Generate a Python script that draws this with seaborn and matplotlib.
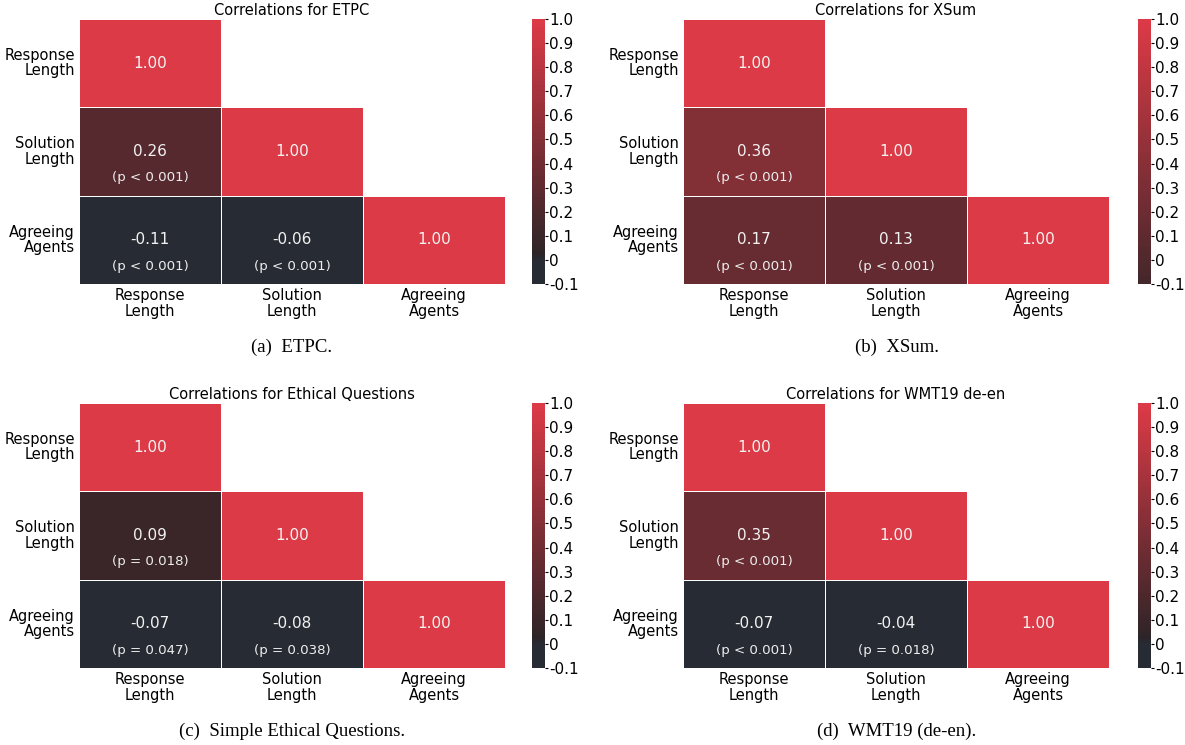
import numpy as np
import pandas as pd
import matplotlib
matplotlib.use("Agg")
import matplotlib.pyplot as plt
import seaborn as sns
from matplotlib.colors import LinearSegmentedColormap

sns.set_style("white")
plt.rcParams["font.family"] = ["DejaVu Sans"]
plt.rcParams["text.color"] = "black"
plt.rcParams["xtick.color"] = "black"
plt.rcParams["ytick.color"] = "black"
plt.rcParams["axes.labelcolor"] = "black"

labels = ["Response\nLength", "Solution\nLength", "Agreeing\nAgents"]
titles = ["Correlations for ETPC", "Correlations for XSum",
          "Correlations for Ethical Questions", "Correlations for WMT19 de-en"]
captions = ["(a)  ETPC.", "(b)  XSum.", "(c)  Simple Ethical Questions.", "(d)  WMT19 (de-en)."]

# lower-triangle correlations: (Solution,Response), (Agreeing,Response), (Agreeing,Solution)
etpc_r = [0.26, -0.11, -0.06]
etpc_p = ["(p < 0.001)", "(p < 0.001)", "(p < 0.001)"]
xsum_r = [0.36, 0.17, 0.13]
xsum_p = ["(p < 0.001)", "(p < 0.001)", "(p < 0.001)"]
ethical_r = [0.09, -0.07, -0.08]
ethical_p = ["(p = 0.018)", "(p = 0.047)", "(p = 0.038)"]
wmt_r = [0.35, -0.07, -0.04]
wmt_p = ["(p < 0.001)", "(p < 0.001)", "(p = 0.018)"]

panels = [(etpc_r, etpc_p), (xsum_r, xsum_p), (ethical_r, ethical_p), (wmt_r, wmt_p)]

cbar_ticks = [-0.1, 0.0, 0.1, 0.2, 0.3, 0.4, 0.5, 0.6, 0.7, 0.8, 0.9, 1.0]
cbar_ticklabels = ["-0.1", "0", "0.1", "0.2", "0.3", "0.4", "0.5", "0.6", "0.7", "0.8", "0.9", "1.0"]

VMIN, VMAX = -0.1, 1.0
SLATE, DARK, RED, BROWN = "#272c34", "#2c2427", "#dc3a46", "#43272b"

def pos(v):
    return (v - VMIN) / (VMAX - VMIN)

cmap_std = LinearSegmentedColormap.from_list(
    "std", [(0.0, SLATE), (pos(-0.005), SLATE), (pos(0.015), DARK), (1.0, RED)], N=64)
cmap_xsum = LinearSegmentedColormap.from_list(
    "xsum", [(0.0, BROWN), (1.0, RED)], N=64)
cmaps = [cmap_std, cmap_xsum, cmap_std, cmap_std]

fig = plt.figure(figsize=(11.85, 7.45), dpi=100)
W, H = 1185, 745
heat_boxes = [(79, 19), (683, 19), (79, 403), (683, 403)]
cbar_x = [532, 1138, 532, 1138]
hw, hh = 426, 265
cap_pos = [(292, 347), (897, 347), (292, 731), (897, 731)]

for i, ((r, p), cmap) in enumerate(zip(panels, cmaps)):
    x0, y0 = heat_boxes[i]
    ax = fig.add_axes([x0 / W, 1 - (y0 + hh) / H, hw / W, hh / H])
    cax = fig.add_axes([cbar_x[i] / W, 1 - (y0 + hh) / H, 13 / W, hh / H])
    mat = np.array([[1.0, np.nan, np.nan],
                    [r[0], 1.0, np.nan],
                    [r[1], r[2], 1.0]])
    df = pd.DataFrame(mat, index=labels, columns=labels)
    mask = np.triu(np.ones_like(mat, dtype=bool), k=1)
    sns.heatmap(df, mask=mask, cmap=cmap, vmin=VMIN, vmax=VMAX, ax=ax, cbar_ax=cax,
                linewidths=0.6, linecolor="white", annot=False,
                cbar_kws={"ticks": cbar_ticks})
    pvals = {(1, 0): p[0], (2, 0): p[1], (2, 1): p[2]}
    for rr in range(3):
        for cc in range(rr + 1):
            ax.text(cc + 0.5, rr + 0.5, f"{mat[rr, cc]:.2f}", ha="center", va="center",
                    color="#f2f2f2", fontsize=11)
            if (rr, cc) in pvals:
                ax.text(cc + 0.5, rr + 0.8, pvals[(rr, cc)], ha="center", va="center",
                        color="#eeeeee", fontsize=9.6)
    ax.set_title(titles[i], fontsize=10.5, pad=3)
    ax.set_xticklabels(labels, rotation=0, fontsize=10.5, linespacing=1.05)
    ax.set_yticklabels(labels, rotation=0, fontsize=10.5, ha="right", linespacing=1.05)
    ax.tick_params(axis="both", length=2, width=0.6, pad=1)
    cax.set_yticklabels(cbar_ticklabels)
    cax.tick_params(labelsize=11, length=2, pad=1)
    cx, cy = cap_pos[i]
    fig.text(cx / W, 1 - cy / H, captions[i], ha="center", va="center",
             fontsize=13.5, family="Liberation Serif")

fig.savefig("out.png", dpi=100)
